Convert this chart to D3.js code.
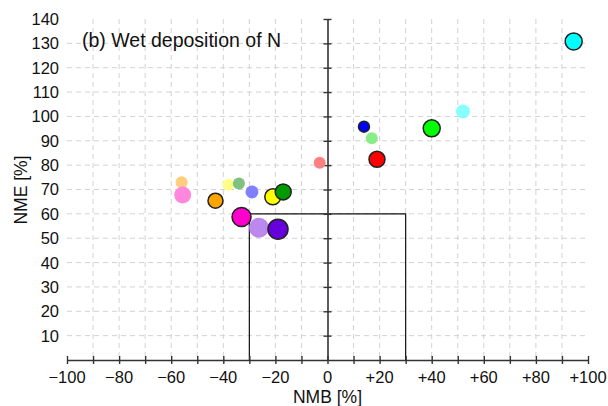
<!DOCTYPE html>
<html>
<head>
<meta charset="utf-8">
<script src="https://cdn.jsdelivr.net/npm/d3@7"></script>
<style>

html, body {
  margin: 0;
  padding: 0;
  background: #fff;
}

text {
  font-family: "Liberation Sans", Arial, Helvetica, sans-serif;
  fill: #111;
}

.grid line {
  stroke: #d2d2d2;
  stroke-width: 1;
  stroke-dasharray: 5,4;
}

</style>
</head>
<body>
<script>

// model statistics, wet deposition of N
var nmb    = [-56, -38, -34, -29, -3, 17, 52, -55.6, -26.3,
              -43, -21, -17, -33, -19, 14, 19, 40, 94.5];
var nme    = [73, 72, 72.5, 69, 81, 91, 102, 67.7, 54.3,
              65.4, 67, 69, 58.7, 53.7, 95.8, 82.4, 95.1, 130.8];
var colors = ['#ffcc80', '#ffff88', '#80c080', '#8080ff', '#ff8080', '#88ee88', '#88ffff', '#ff88dd', '#bb88ee',
              '#ffa500', '#ffff00', '#009900', '#ff00cc', '#6600dd', '#0000ff', '#ff0000', '#00ff00', '#00ffff'];
var outlined = [0, 0, 0, 0, 0, 0, 0, 0, 0,
                1, 1, 1, 1, 1, 1, 1, 1, 1];
var radii  = [6, 6, 6, 6.5, 6, 6, 7, 8.5, 10,
              7.5, 8, 8, 9.5, 10, 5.5, 8, 8.5, 8.5];

var xTicks = d3.range(-100, 101, 20);
var yTicks = d3.range(10, 141, 10);

var w = 608, h = 406;

var svg = d3.select('body').append('svg')
  .attr('width', w)
  .attr('height', h);

var x = d3.scaleLinear().domain([-100, 100]).range([67, 588]);
var y = d3.scaleLinear().domain([0, 140]).range([360, 19]);

// grid
var grid = svg.append('g').attr('class', 'grid');
grid.selectAll('line.h')
  .data(yTicks.filter(function(d){ return d < 140; }))
  .enter().append('line')
  .attr('x1', x(-100)).attr('x2', x(100))
  .attr('y1', function(d){ return y(d); })
  .attr('y2', function(d){ return y(d); });
grid.selectAll('line.v')
  .data(d3.range(-90, 91, 10).filter(function(d){ return d !== 0; }))
  .enter().append('line')
  .attr('y1', y(140)).attr('y2', y(0))
  .attr('x1', function(d){ return x(d); })
  .attr('x2', function(d){ return x(d); });

// +-30 % / 60 % box
svg.append('path')
  .attr('d', 'M' + x(-30) + ',' + y(0) + 'V' + y(60) + 'H' + x(30) + 'V' + y(0))
  .attr('fill', 'none')
  .attr('stroke', '#111')
  .attr('stroke-width', 1.2);

// axes through the origin
var xAxis = d3.axisBottom(x)
  .tickValues(d3.range(-100, 101, 10))
  .tickSizeInner(4)
  .tickSizeOuter(0)
  .tickFormat('');
var gx = svg.append('g')
  .attr('transform', 'translate(0,' + y(0) + ')')
  .call(xAxis);
gx.selectAll('.tick line').attr('y1', -4);

var yAxis = d3.axisLeft(y)
  .tickValues(d3.range(10, 141, 10))
  .tickSizeInner(4)
  .tickSizeOuter(0)
  .tickFormat('');
var gy = svg.append('g')
  .attr('transform', 'translate(' + x(0) + ',0)')
  .call(yAxis);
gy.selectAll('.tick line').attr('x1', 4);

svg.selectAll('.domain').attr('stroke', '#333').attr('stroke-width', 1.6);
svg.selectAll('.tick line').attr('stroke', '#333').attr('stroke-width', 1.4);

// tick labels
svg.selectAll('text.xl')
  .data(xTicks)
  .enter().append('text')
  .attr('x', function(d){ return x(d); })
  .attr('y', 383)
  .attr('text-anchor', 'middle')
  .style('font-size', '16.5px')
  .text(function(d){ return d > 0 ? '+' + d : (d < 0 ? '\u2212' + (-d) : '0'); });

svg.selectAll('text.yl')
  .data(yTicks)
  .enter().append('text')
  .attr('x', 59)
  .attr('y', function(d){ return y(d); })
  .attr('dy', '0.36em')
  .attr('text-anchor', 'end')
  .style('font-size', '16.5px')
  .text(function(d){ return d; });

// axis titles
svg.append('text')
  .attr('x', x(0))
  .attr('y', 403)
  .attr('text-anchor', 'middle')
  .style('font-size', '17.5px')
  .text('NMB [%]');

svg.append('text')
  .attr('transform', 'translate(27,190) rotate(-90)')
  .attr('text-anchor', 'middle')
  .style('font-size', '17.5px')
  .text('NME [%]');

svg.append('text')
  .attr('x', 82)
  .attr('y', 47)
  .style('font-size', '19.5px')
  .text('(b) Wet deposition of N');

// points
svg.selectAll('circle')
  .data(d3.range(nmb.length))
  .enter().append('circle')
  .attr('cx', function(i){ return x(nmb[i]); })
  .attr('cy', function(i){ return y(nme[i]); })
  .attr('r', function(i){ return radii[i]; })
  .attr('fill', function(i){ return colors[i]; })
  .attr('stroke', function(i){ return outlined[i] ? '#222' : 'none'; })
  .attr('stroke-width', 1.5);

</script>
</body>
</html>
